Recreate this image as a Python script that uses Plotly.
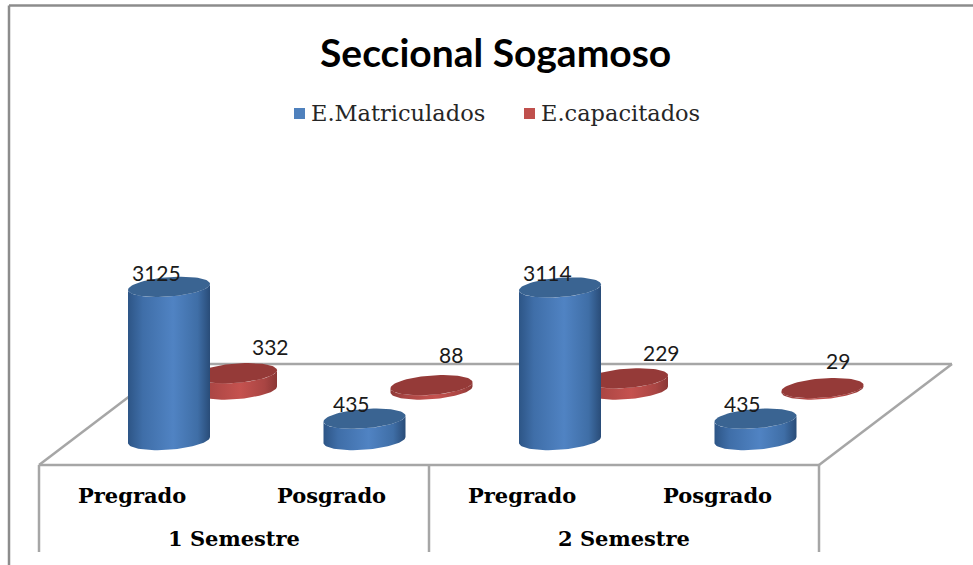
import numpy as np
import plotly.graph_objects as go

# datos
semestres = ["1 Semestre", "2 Semestre"]
niveles = ["Pregrado", "Posgrado", "Pregrado", "Posgrado"]
matriculados = [3125, 435, 3114, 435]
capacitados = [332, 88, 229, 29]

W, H = 973, 565
PX_X = 195.5       # pixeles por categoria
PX_Y = 0.049       # pixeles por estudiante
X0, Y0 = 169, 440  # pixel de la categoria 0, valor 0

# cilindros, en pixeles
RADIO_X = 41
RADIO_Y = 9.7
SESGO = 3
FONDO_X = 67       # desplazamiento de la serie de atras
FONDO_Y = 50.5

AZUL = dict(top="#3a6492", legend="#4f81bd", scale=[
    [0, "#2d5586"], [0.18, "#3f6ea8"], [0.55, "#5083c3"], [0.85, "#3f6ea6"], [1, "#294c78"]])
ROJO = dict(top="#953a38", legend="#c0504d", scale=[
    [0, "#8f3a38"], [0.18, "#ab4644"], [0.55, "#c5524f"], [0.85, "#a94543"], [1, "#8b3735"]])

GRIS = "#a6a6a6"
SERIF = "DejaVu Serif"


def dx(px):
    return px / PX_X


def dy(px):
    return px / PX_Y


def cilindro(fig, i, valor, base, color):
    """Cuerpo con degradado y tapa elipse, en unidades de los ejes."""
    t = np.linspace(0, np.pi, 40)
    ax, by, sy = dx(RADIO_X), dy(RADIO_Y), dy(SESGO)
    x_arco = i + ax * np.cos(t)
    abajo = base - by * np.sin(t) + sy * np.cos(t)
    arriba = abajo + valor
    fig.add_trace(go.Scatter(
        x=np.concatenate([x_arco, x_arco[::-1]]),
        y=np.concatenate([abajo, arriba[::-1]]),
        mode="lines", line=dict(width=0), fill="toself",
        fillgradient=dict(type="horizontal", colorscale=color["scale"]),
        hoverinfo="skip", showlegend=False,
    ))
    t = np.linspace(0, 2 * np.pi, 80)
    fig.add_trace(go.Scatter(
        x=i + ax * np.cos(t),
        y=base + valor - by * np.sin(t) + sy * np.cos(t),
        mode="lines", line=dict(width=0), fill="toself", fillcolor=color["top"],
        hoverinfo="skip", showlegend=False,
    ))


fig = go.Figure()

# la serie de atras primero para que quede tapada
for i, v in enumerate(capacitados):
    cilindro(fig, i + dx(FONDO_X), v, dy(FONDO_Y), ROJO)
for i, v in enumerate(matriculados):
    cilindro(fig, i, v, 0, AZUL)


def linea(x0, y0, x1, y1, color=GRIS, width=2.5, layer="below"):
    return dict(type="line", xref="paper", yref="paper", x0=x0 / W, x1=x1 / W,
                y0=1 - y0 / H, y1=1 - y1 / H, layer=layer,
                line=dict(color=color, width=width))


shapes = [
    # piso
    linea(39, 465, 819, 465),
    linea(39, 465, 172, 364),
    linea(172, 364, 952, 364),
    linea(952, 364, 819, 465),
    # tabla del eje
    linea(39, 465, 39, 552),
    linea(429, 465, 429, 552),
    linea(819, 465, 819, 552),
    # marco de la imagen
    linea(9, 5.5, 973, 5.5, color="#8c8c8c"),
    linea(9, 5.5, 9, 565, color="#8c8c8c"),
]

# leyenda
for x_px, c in [(294, AZUL), (524, ROJO)]:
    shapes.append(dict(type="rect", xref="paper", yref="paper",
                       x0=x_px / W, x1=(x_px + 11) / W,
                       y0=1 - 119 / H, y1=1 - 108 / H,
                       fillcolor=c["legend"], line=dict(width=0)))

annotations = []


def texto(px, py, s, size, family, bold=False, color="#000000"):
    annotations.append(dict(
        xref="paper", yref="paper", x=px / W, y=1 - py / H, showarrow=False,
        text=f"<b>{s}</b>" if bold else s,
        font=dict(family=family, size=size, color=color),
        xanchor="center", yanchor="middle",
    ))


texto(495, 52, "Seccional Sogamoso", 39, "Lato", bold=True)
texto(397.5, 113, "E.Matriculados", 22.5, SERIF, color="#262626")
texto(620.5, 113, "E.capacitados", 22.5, SERIF, color="#262626")

for px, s in zip([132, 331, 522, 717], niveles):
    texto(px, 495, s, 21, SERIF, bold=True)
for px, s in zip([234, 624], semestres):
    texto(px, 538, s, 21, SERIF, bold=True)

# etiquetas de datos, ancladas a cada valor
desp_azul = [(-13, 14.5), (-13, 15), (-13, 14.5), (-13, 15)]
desp_rojo = [(34.5, 27), (19, 31), (34, 26), (15, 28)]
for i, (v, d) in enumerate(zip(matriculados, desp_azul)):
    annotations.append(dict(
        x=i, y=v, xref="x", yref="y", text=str(v), showarrow=False,
        xshift=d[0], yshift=d[1], font=dict(family="Lato", size=21, color="#1a1a1a"),
    ))
for i, (v, d) in enumerate(zip(capacitados, desp_rojo)):
    annotations.append(dict(
        x=i + dx(FONDO_X), y=v + dy(FONDO_Y), xref="x", yref="y", text=str(v), showarrow=False,
        xshift=d[0], yshift=d[1], font=dict(family="Lato", size=21, color="#1a1a1a"),
    ))

fig.update_layout(
    width=W, height=H,
    margin=dict(l=0, r=0, t=0, b=0),
    paper_bgcolor="#ffffff", plot_bgcolor="#ffffff",
    xaxis=dict(range=[-X0 / PX_X, (W - X0) / PX_X], visible=False, fixedrange=True),
    yaxis=dict(range=[(Y0 - H) / PX_Y, Y0 / PX_Y], visible=False, fixedrange=True),
    shapes=shapes, annotations=annotations, showlegend=False,
)

# la pagina trae margen de 8 px por defecto
fig.write_html(
    "out.html",
    config=dict(displayModeBar=False),
    post_script="document.body.style.margin='0';document.body.style.overflow='hidden';",
)
